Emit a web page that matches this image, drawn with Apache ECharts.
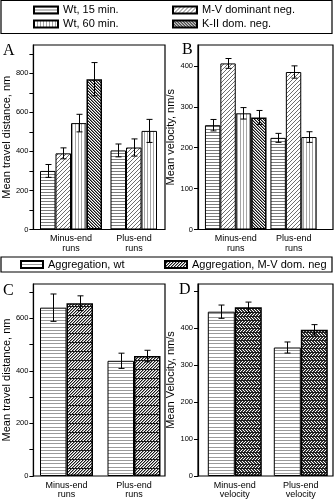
<!DOCTYPE html>
<html>
<head>
<meta charset="utf-8">
<script src="https://cdn.jsdelivr.net/npm/echarts@6/dist/echarts.min.js"></script>
<style>
  html, body { margin: 0; padding: 0; background: #fff; }
  #chart { width: 334px; height: 500px; }
</style>
</head>
<body>
<div id="chart"></div>
<script>
// ---- data ----
const runCats = ['Minus-end\nruns', 'Plus-end\nruns'];
const velCats = ['Minus-end\nvelocity', 'Plus-end\nvelocity'];

// Panel A: mean travel distance, nm
const distWt15 = [300, 405];
const distWt15Err = [33, 33];
const distMV = [390, 420];
const distMVErr = [28, 44];
const distWt60 = [545, 505];
const distWt60Err = [45, 59];
const distK2 = [770, null];
const distK2Err = [85, null];

// Panel B: mean velocity, nm/s
const velWt15 = [255, 224];
const velWt15Err = [14, 11];
const velMV = [406, 385];
const velMVErr = [12, 15];
const velWt60 = [284, 226];
const velWt60Err = [14, 13];
const velK2 = [274, null];
const velK2Err = [17, null];

// Panel C: aggregation, travel distance
const aggDistWt = [640, 438];
const aggDistWtErr = [52, 29];
const aggDistMV = [657, 456];
const aggDistMVErr = [28, 22];

// Panel D: aggregation, velocity
const aggVelWt = [445, 348];
const aggVelWtErr = [18, 15];
const aggVelMV = [457, 396];
const aggVelMVErr = [14, 14];

// axis ticks and tick labels
const ticksA = [0, 100, 200, 300, 400, 500, 600, 700, 800, 900];
const labelsA = [0, 200, 400, 600, 800];
const ticksB = [0, 100, 200, 300, 400];
const labelsB = [0, 100, 200, 300, 400];
const ticksC = [0, 100, 200, 300, 400, 500, 600, 700];
const labelsC = [0, 200, 400, 600];
const ticksD = [0, 100, 200, 300, 400, 500];
const labelsD = [0, 100, 200, 300, 400];

// ---- fill patterns ----
function tile(w, h, draw) {
  const c = document.createElement('canvas');
  c.width = w; c.height = h;
  const g = c.getContext('2d');
  g.fillStyle = '#fff';
  g.fillRect(0, 0, w, h);
  draw(g);
  return { image: c, repeat: 'repeat' };
}
function px(g, col, x, y) { g.fillStyle = col; g.fillRect(x, y, 1, 1); }

const patHoriz = tile(4, 3, g => { g.fillStyle = '#7c7c7c'; g.fillRect(0, 0, 4, 1); });
const patVert = tile(3, 4, g => { g.fillStyle = '#a6a6a6'; g.fillRect(0, 0, 1, 4); });
const patSlash = tile(4, 4, g => { for (let y = 0; y < 4; y++) px(g, '#6e6e6e', 3 - y, y); });
const patBack = tile(3, 3, g => {
  for (let y = 0; y < 3; y++) { px(g, '#111', y, y); px(g, '#8a8a8a', (y + 1) % 3, y); }
});
const patAggWt = tile(4, 10, g => {
  g.fillStyle = '#9a9a9a';
  [0, 3, 7].forEach(y => g.fillRect(0, y, 4, 1));
});
const patAggMV = tile(3, 9, g => {
  for (let y = 0; y < 9; y++) {
    px(g, '#1a1a1a', (2 - (y % 3) + 3) % 3, y);
    px(g, '#9a9a9a', (3 - (y % 3)) % 3, y);
  }
  g.fillStyle = '#1a1a1a'; g.fillRect(0, 0, 3, 1);
});
const patAggMV2 = tile(6, 8, g => {
  g.fillStyle = '#1a1a1a';
  g.fillRect(0, 0, 6, 1); g.fillRect(0, 4, 6, 1);
  for (let y = 1; y < 4; y++) for (let x = 0; x < 6; x++) if ((x + y) % 3 !== 0) px(g, '#333', x, y);
  for (let y = 5; y < 8; y++) for (let x = 0; x < 6; x++) if ((x - y + 30) % 3 !== 0) px(g, '#333', x, y);
});

// ---- layout helpers ----
const FONT = "'Liberation Sans', Arial, sans-serif";
const SERIF = "'Liberation Serif', 'Times New Roman', serif";

const frames = [
  { left: 30, top: 45, width: 135, height: 184.5 },
  { left: 198, top: 45, width: 135, height: 184.5 },
  { left: 30, top: 284, width: 135, height: 192 },
  { left: 198, top: 284, width: 135, height: 192 }
];
// plotting bands for the bars of each panel
const bands = [
  { left: 35.75, top: 45, width: 141, height: 184.5 },
  { left: 203, top: 45, width: 142, height: 184.5 },
  { left: 32.75, top: 284, width: 135, height: 192 },
  { left: 201.8, top: 284, width: 132, height: 192 }
];
const maxes = [945, 451, 730, 520];
const tickSets = [ticksA, ticksB, ticksC, ticksD];
const labelSets = [labelsA, labelsB, labelsC, labelsD];
const yNames = ['Mean travel distance, nm', 'Mean velocity, nm/s', 'Mean travel distance, nm', 'Mean Velocity, nm/s'];
const barWidths = [15.5, 15.4, 26.5, 27];

const grid = [], xAxis = [], yAxis = [];
frames.forEach((f, p) => {
  grid.push(Object.assign({ show: true, borderColor: '#000', borderWidth: 1.2, backgroundColor: 'transparent' }, f));
  grid.push(Object.assign({ show: false }, bands[p]));
  xAxis.push({ gridIndex: 2 * p, type: 'value', show: false, min: 0, max: 1 });
  const cats = p < 2 ? runCats.map((c, i) => i === 1 ? { value: c, textStyle: { padding: [0, 15, 0, 0] } } : c)
                     : (p === 2 ? runCats : velCats);
  xAxis.push({
    gridIndex: 2 * p + 1, type: 'category', data: cats,
    axisLine: { show: false }, axisTick: { show: false },
    axisLabel: { fontFamily: FONT, fontSize: 9, lineHeight: 9.5, color: '#000', margin: 4.5, interval: 0 }
  });
  yAxis.push({
    gridIndex: 2 * p, type: 'value', min: 0, max: maxes[p],
    name: yNames[p], nameLocation: 'middle', nameGap: 17,
    nameTextStyle: { fontFamily: FONT, fontSize: 11, color: '#000' },
    axisLine: { show: true, lineStyle: { color: '#000', width: 1.2 } },
    axisTick: { show: true, inside: false, length: 4, customValues: tickSets[p], lineStyle: { color: '#000', width: 1 } },
    axisLabel: { customValues: labelSets[p], fontFamily: FONT, fontSize: 7.5, color: '#000', margin: 5 },
    splitLine: { show: false }
  });
  yAxis.push({ gridIndex: 2 * p + 1, type: 'value', min: 0, max: maxes[p], show: false, splitLine: { show: false } });
});

function bar(name, p, values, pattern, bw) {
  return {
    name, type: 'bar', xAxisIndex: 2 * p + 1, yAxisIndex: 2 * p + 1,
    data: values.map(v => v == null ? '-' : v),
    barWidth: barWidths[p], barGap: '0%',
    itemStyle: { color: pattern, borderColor: '#000', borderWidth: bw || 1 },
    emphasis: { disabled: true }, z: 2
  };
}

function errBars(p, values, errs, slot, nSlots) {
  const bw = barWidths[p];
  const data = [];
  values.forEach((v, i) => { if (v != null) data.push([i, v, errs[i]]); });
  return {
    type: 'custom', name: 'err' + p + '_' + slot, xAxisIndex: 2 * p + 1, yAxisIndex: 2 * p + 1,
    data, z: 5, clip: false, silent: true,
    renderItem: (params, api) => {
      const i = api.value(0), v = api.value(1), e = api.value(2);
      const hi = api.coord([i, v + e]);
      const lo = api.coord([i, v - e]);
      const x = Math.round(hi[0] + (slot - (nSlots - 1) / 2) * bw) + 0.5;
      const st = { stroke: '#000', lineWidth: 1 };
      return {
        type: 'group', children: [
          { type: 'line', shape: { x1: x, y1: hi[1], x2: x, y2: lo[1] }, style: st },
          { type: 'line', shape: { x1: x - 3, y1: hi[1], x2: x + 3, y2: hi[1] }, style: st },
          { type: 'line', shape: { x1: x - 3, y1: lo[1], x2: x + 3, y2: lo[1] }, style: st }
        ]
      };
    }
  };
}

const N15 = 'Wt, 15 min.', N60 = 'Wt, 60 min.', NMV = 'M-V dominant neg.', NK2 = 'K-II dom. neg.';
const NAW = 'Aggregation, wt', NAM = 'Aggregation, M-V dom. neg';

const series = [
  bar(N15, 0, distWt15, patHoriz), bar(NMV, 0, distMV, patSlash), bar(N60, 0, distWt60, patVert), bar(NK2, 0, distK2, patBack, 1.5),
  errBars(0, distWt15, distWt15Err, 0, 4), errBars(0, distMV, distMVErr, 1, 4), errBars(0, distWt60, distWt60Err, 2, 4), errBars(0, distK2, distK2Err, 3, 4),
  bar(N15, 1, velWt15, patHoriz), bar(NMV, 1, velMV, patSlash), bar(N60, 1, velWt60, patVert), bar(NK2, 1, velK2, patBack, 1.5),
  errBars(1, velWt15, velWt15Err, 0, 4), errBars(1, velMV, velMVErr, 1, 4), errBars(1, velWt60, velWt60Err, 2, 4), errBars(1, velK2, velK2Err, 3, 4),
  bar(NAW, 2, aggDistWt, patAggWt), bar(NAM, 2, aggDistMV, patAggMV, 1.5),
  errBars(2, aggDistWt, aggDistWtErr, 0, 2), errBars(2, aggDistMV, aggDistMVErr, 1, 2),
  bar(NAW, 3, aggVelWt, patAggWt), bar(NAM, 3, aggVelMV, patAggMV2, 1.5),
  errBars(3, aggVelWt, aggVelWtErr, 0, 2), errBars(3, aggVelMV, aggVelMVErr, 1, 2)
];

const legendBase = {
  orient: 'vertical', padding: 0, itemGap: 1, itemHeight: 7,
  icon: 'rect', selectedMode: false,
  textStyle: { fontFamily: FONT, fontSize: 11, color: '#000', lineHeight: 13 }
};
const legend = [
  Object.assign({}, legendBase, { left: 33, top: 3.5, itemWidth: 24, data: [N15, N60] }),
  Object.assign({}, legendBase, { left: 172, top: 3.5, itemWidth: 24, data: [NMV, NK2] }),
  Object.assign({}, legendBase, { left: 20, top: 258, itemWidth: 22, data: [NAW] }),
  Object.assign({}, legendBase, { left: 164, top: 258, itemWidth: 22, data: [NAM] })
];

const letterStyle = { fontFamily: SERIF, fontSize: 16, fontWeight: 'normal', color: '#000' };
const title = [
  { text: 'A', left: 3, top: 42.5, padding: 0, textStyle: letterStyle },
  { text: 'B', left: 182, top: 41.5, padding: 0, textStyle: letterStyle },
  { text: 'C', left: 3, top: 283, padding: 0, textStyle: letterStyle },
  { text: 'D', left: 179, top: 282, padding: 0, textStyle: letterStyle }
];

const chart = echarts.init(document.getElementById('chart'), null, { renderer: 'canvas' });
chart.setOption({
  animation: false,
  backgroundColor: '#fff',
  title, legend, grid, xAxis, yAxis, series,
  graphic: [
    { type: 'rect', shape: { x: 1, y: 0.5, width: 331, height: 33 }, style: { fill: 'none', stroke: '#000', lineWidth: 1.2 } },
    { type: 'rect', shape: { x: 1, y: 257, width: 331, height: 15 }, style: { fill: 'none', stroke: '#000', lineWidth: 1.2 } }
  ]
});
</script>
</body>
</html>
